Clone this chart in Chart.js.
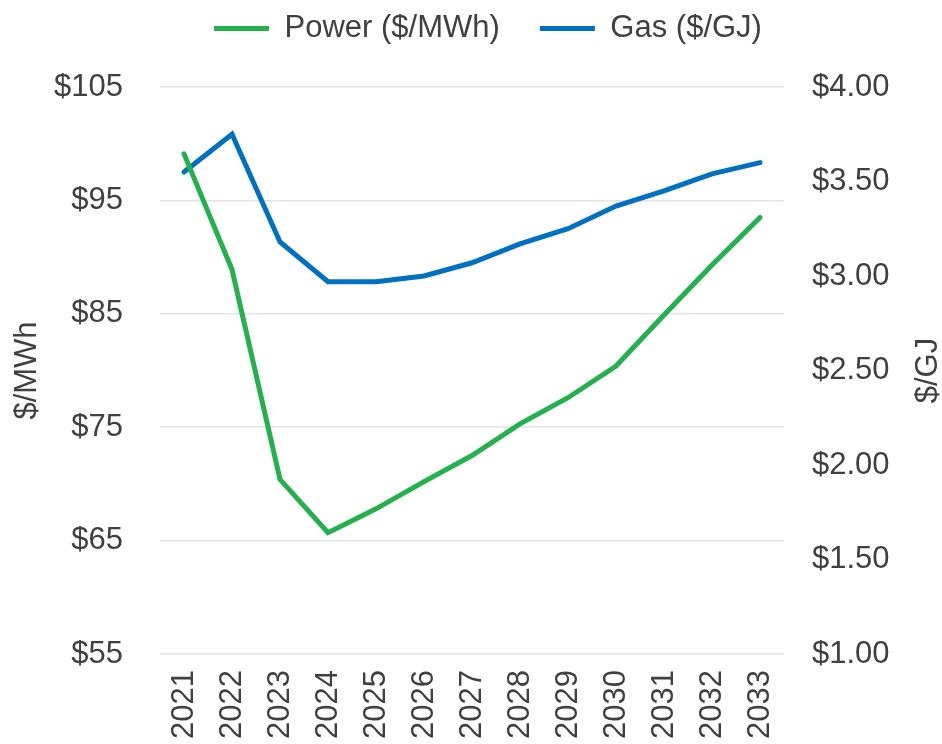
<!DOCTYPE html>
<html>
<head>
<meta charset="utf-8">
<script src="https://cdn.jsdelivr.net/npm/chart.js@4.4.1/dist/chart.umd.min.js"></script>
<style>
html,body{margin:0;padding:0;background:#fff;}
#wrap{width:942px;height:744px;}
</style>
</head>
<body>
<div id="wrap"><canvas id="c" width="942" height="744"></canvas></div>
<script>
const years = ['2021','2022','2023','2024','2025','2026','2027','2028','2029','2030','2031','2032','2033'];
const powerPrices = [99.1, 88.9, 70.4, 65.7, 67.8, 70.2, 72.5, 75.3, 77.6, 80.4, 84.9, 89.3, 93.5];
const gasPrices = [3.55, 3.75, 3.18, 2.97, 2.97, 3.00, 3.07, 3.17, 3.25, 3.37, 3.45, 3.54, 3.60];
const seriesNames = ['Power ($/MWh)', 'Gas ($/GJ)'];
const leftTitle = '$/MWh';
const rightTitle = '$/GJ';

const FONT = "'Liberation Sans', Arial, sans-serif";
const TXT = '#404040';

const layoutPlugin = {
  id: 'layoutTweaks',
  afterInit(chart) {
    const lg = chart.legend;
    const origFit = lg.fit;
    lg.fit = function () {
      origFit.call(this);
      this.height = 87;
    };
  },
  afterLayout(chart) {
    const lg = chart.legend;
    lg.left += 17; lg.right += 17;
    lg.top -= 27; lg.bottom -= 27;
  },
  afterDraw(chart) {
    const ctx = chart.ctx;
    const a = chart.chartArea;
    ctx.save();
    ctx.font = '31px ' + FONT;
    ctx.fillStyle = TXT;
    ctx.textAlign = 'center';
    ctx.textBaseline = 'middle';
    ctx.translate(928, (a.top + a.bottom) / 2);
    ctx.rotate(-Math.PI / 2);
    ctx.fillText(rightTitle, 0, 0);
    ctx.restore();
  }
};

new Chart(document.getElementById('c'), {
  type: 'line',
  data: {
    labels: years,
    datasets: [
      { label: seriesNames[0], data: powerPrices, yAxisID: 'yL', borderColor: '#22b14c', backgroundColor: '#22b14c',
        borderWidth: 5, pointRadius: 0, tension: 0, borderCapStyle: 'round', borderJoinStyle: 'miter', fill: false },
      { label: seriesNames[1], data: gasPrices, yAxisID: 'yR', borderColor: '#0070c0', backgroundColor: '#0070c0',
        borderWidth: 5, pointRadius: 0, tension: 0, borderCapStyle: 'round', borderJoinStyle: 'miter', fill: false }
    ]
  },
  options: {
    responsive: false,
    animation: false,
    events: [],
    layout: { padding: 0 },
    plugins: {
      tooltip: { enabled: false },
      legend: {
        position: 'top',
        labels: {
          usePointStyle: true,
          pointStyle: 'line',
          pointStyleWidth: 55,
          padding: 40,
          color: TXT,
          font: { family: FONT, size: 31 }
        }
      }
    },
    scales: {
      x: {
        offset: true,
        grid: { display: false, drawTicks: false },
        border: { display: false },
        ticks: { color: TXT, font: { family: FONT, size: 31 }, minRotation: 90, maxRotation: 90, autoSkip: false, padding: 16 },
        afterFit(s) { s.height = 90; }
      },
      yL: {
        position: 'left',
        min: 55, max: 105,
        grid: { color: '#e4e4e4', lineWidth: 1.5, drawTicks: false },
        border: { display: false },
        ticks: { stepSize: 10, color: TXT, font: { family: FONT, size: 31 }, padding: 37,
          callback: v => '$' + v },
        title: { display: true, text: leftTitle, color: TXT, font: { family: FONT, size: 31 }, padding: { top: 9, bottom: 0 } },
        afterFit(s) { s.width = 160; }
      },
      yR: {
        position: 'right',
        min: 1, max: 4,
        grid: { display: false, drawTicks: false },
        border: { display: false },
        ticks: { stepSize: 0.5, color: TXT, font: { family: FONT, size: 31 }, padding: 28,
          callback: v => '$' + Number(v).toFixed(2) },
        afterFit(s) { s.width = 158; }
      }
    }
  },
  plugins: [layoutPlugin]
});
</script>
</body>
</html>
